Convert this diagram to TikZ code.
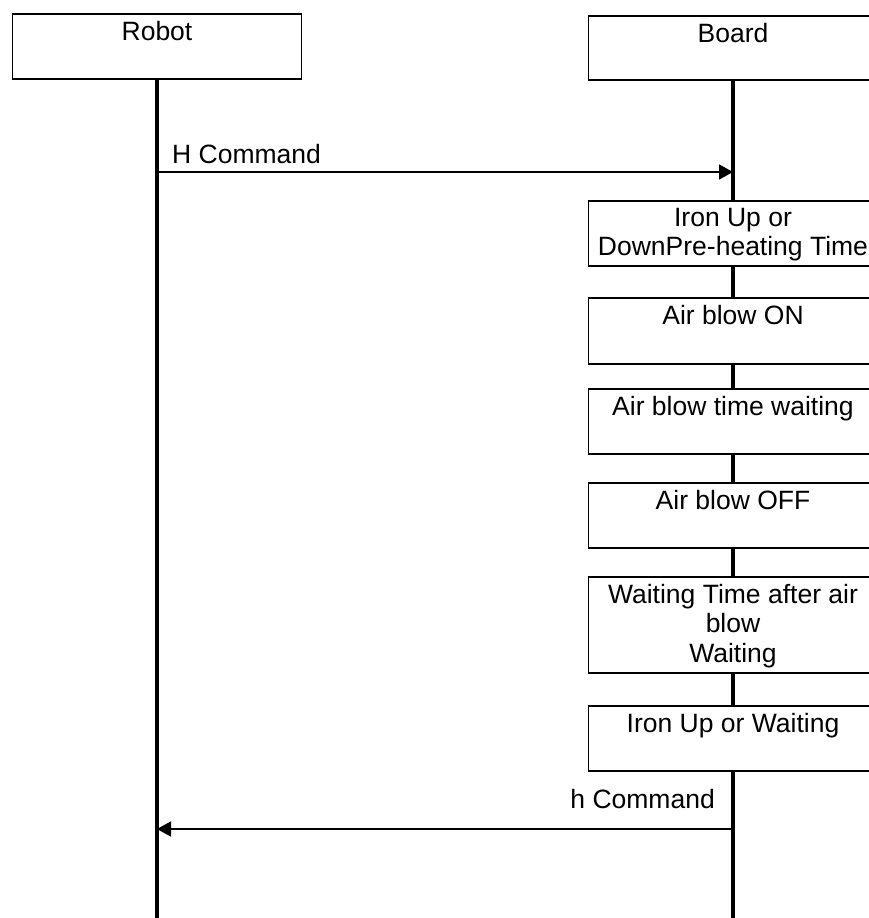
\documentclass[tikz,border=0pt]{standalone}
\usepackage{fontspec}
\setmainfont{Liberation Sans}
\usetikzlibrary{arrows.meta}

\tikzset{
    stepbox/.style={draw,line width=1.8pt,fill=white,anchor=north,
                    minimum width=289pt,minimum height=65pt,inner sep=0pt},
    boxtext/.style={draw=none,fill=none,anchor=north,inner sep=0pt,yshift=-7.8pt,
                    align=center,minimum width=0pt,minimum height=0pt,
                    font=\fontsize{26.5}{29.5}\selectfont},
    msgtext/.style={inner sep=0pt,font=\fontsize{26.5}{29.5}\selectfont}
}

\begin{document}
\begin{tikzpicture}[x=1pt,y=1pt]
\clip (0,0) rectangle (869,-918);
\useasboundingbox (0,0) rectangle (869,-918);
\node (robot) at (157,-13) [stepbox,label={[boxtext]north:Robot}] {};
\node (board) at (733,-15) [stepbox,minimum height=64pt,label={[boxtext]north:Board}] {};
% lifelines
\coordinate (robotend) at (157,-930);
\coordinate (boardend) at (733,-930);
\path (robot) edge [line width=4.8pt] (robotend);
\path (board) edge [line width=4.8pt] (boardend);
\node (preheat) at (733,-200) [stepbox,label={[boxtext]north:Iron Up or\\DownPre-heating Time}] {};
\node (airon) at (733,-297) [stepbox,minimum height=66pt,label={[boxtext]north:Air blow ON}] {};
\node (airwait) at (733,-388) [stepbox,label={[boxtext]north:Air blow time waiting}] {};
\node (airoff) at (733,-482) [stepbox,label={[boxtext]north:Air blow OFF}] {};
\node (afterwait) at (733,-576) [stepbox,minimum height=96pt,
    label={[boxtext]north:Waiting Time after air\\blow\\Waiting}] {};
\node (ironup) at (733,-705) [stepbox,label={[boxtext]north:Iron Up or Waiting}] {};
\coordinate (hsend) at (157,-172);
\coordinate (hrecv) at (733,-172);
\coordinate (hbsend) at (733,-829);
\coordinate (hbrecv) at (157,-829);
\begin{scope}[>={Triangle[length=14pt,width=15pt]},
              msg/.style={draw=black,line width=1.8pt}]
    \path [->] (hsend) edge [msg] (hrecv);
    \path [->] (hbsend) edge [msg] (hbrecv);
\end{scope}
\node (hcmd) [msgtext,anchor=base west] at (172,-163) {H Command};
\node (hbcmd) [msgtext,anchor=base east] at (715,-808) {h Command};
\end{tikzpicture}
\end{document}
